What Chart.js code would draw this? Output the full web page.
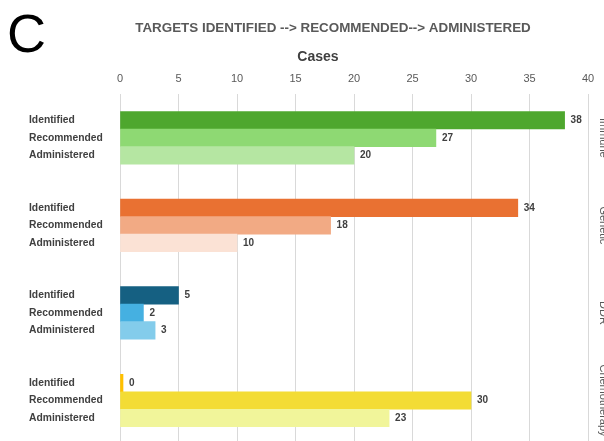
<!DOCTYPE html>
<html>
<head>
<meta charset="utf-8">
<script src="https://cdn.jsdelivr.net/npm/chart.js@4"></script>
<style>
  html, body { margin: 0; padding: 0; overflow: hidden; background: #fff; }
  #wrap { position: relative; width: 604px; height: 441px; overflow: hidden; }
  #panel { position: absolute; left: 7px; top: 2px; font: 54px "Liberation Sans", Arial, sans-serif; color: #000; }
  canvas { position: absolute; left: 0; top: 0; }
</style>
</head>
<body>
<div id="wrap">
  <canvas id="chart" width="604" height="471"></canvas>
  <div id="panel">C</div>
</div>
<script>
const groups = ["Immune", "Genetic", "DDR", "Chemotherapy"];
const stages = ["Identified", "Recommended", "Administered"];

const immune = [38, 27, 20];
const genetic = [34, 18, 10];
const ddr = [5, 2, 3];
const chemo = [0, 30, 23];

const immuneColors = ["#4EA72E", "#8ED973", "#B5E6A2"];
const geneticColors = ["#E97132", "#F2AA84", "#FBE2D5"];
const ddrColors = ["#156082", "#45B0E1", "#83CCEB"];
const chemoColors = ["#FFC000", "#F3DC35", "#F1F59A"];

const chartTitle = "TARGETS IDENTIFIED --> RECOMMENDED--> ADMINISTERED";
const axisTitle = "Cases";

// rows: one blank on top, two blanks between groups and at the end
const groupValues = [immune, genetic, ddr, chemo];
const groupColors = [immuneColors, geneticColors, ddrColors, chemoColors];
const labels = [""];
const values = [null];
const colors = ["#fff"];
const groupMid = [];
groupValues.forEach((vals, g) => {
  stages.forEach((s, i) => {
    if (i === 1) groupMid.push(labels.length);
    labels.push(s);
    values.push(vals[i]);
    colors.push(groupColors[g][i]);
  });
  labels.push("", "");
  values.push(null, null);
  colors.push("#fff", "#fff");
});

const textPlugin = {
  id: "textPlugin",
  afterDraw(chart) {
    const ctx = chart.ctx;
    const y = chart.scales.y;
    ctx.save();
    // value labels
    ctx.font = "bold 10px 'Liberation Sans', Arial, sans-serif";
    ctx.fillStyle = "#404040";
    ctx.textBaseline = "middle";
    ctx.textAlign = "left";
    chart.getDatasetMeta(0).data.forEach((bar, i) => {
      if (values[i] === null) return;
      ctx.fillText(String(values[i]), bar.x + 6, bar.y);
    });
    // headers
    ctx.fillStyle = "#595959";
    ctx.textAlign = "center";
    ctx.font = "bold 13.4px 'Liberation Sans', Arial, sans-serif";
    ctx.fillText(chartTitle, 333, 28);
    ctx.fillStyle = "#404040";
    ctx.font = "bold 14px 'Liberation Sans', Arial, sans-serif";
    ctx.fillText(axisTitle, 318, 57);
    // group names on the right, rotated
    ctx.fillStyle = "#595959";
    ctx.font = "11px 'Liberation Sans', Arial, sans-serif";
    ctx.textBaseline = "alphabetic";
    groups.forEach((g, i) => {
      ctx.save();
      ctx.translate(chart.chartArea.right + 12, y.getPixelForValue(groupMid[i]));
      ctx.rotate(Math.PI / 2);
      ctx.fillText(g, 0, 0);
      ctx.restore();
    });
    ctx.restore();
  }
};

new Chart(document.getElementById("chart"), {
  type: "bar",
  data: {
    labels: labels,
    datasets: [{
      data: values,
      backgroundColor: colors,
      barPercentage: 1,
      categoryPercentage: 1,
      minBarLength: 3
    }]
  },
  options: {
    indexAxis: "y",
    responsive: false,
    animation: false,
    layout: { padding: { left: 29, right: 16, top: 0, bottom: 0 } },
    plugins: { legend: { display: false }, tooltip: { enabled: false } },
    scales: {
      x: {
        position: "top",
        min: 0,
        max: 40,
        ticks: {
          stepSize: 5,
          padding: 8,
          color: "#595959",
          font: { family: "'Liberation Sans', Arial, sans-serif", size: 11 }
        },
        grid: { color: "#d9d9d9", drawTicks: false },
        border: { display: false },
        afterFit(scale) { scale.height = 94; }
      },
      y: {
        grid: { display: false },
        border: { display: false },
        ticks: {
          autoSkip: false,
          crossAlign: "far",
          color: "#404040",
          font: { family: "'Liberation Sans', Arial, sans-serif", size: 10.3, weight: "bold" }
        },
        afterFit(scale) { scale.width = 91; }
      }
    }
  },
  plugins: [textPlugin]
});
</script>
</body>
</html>
